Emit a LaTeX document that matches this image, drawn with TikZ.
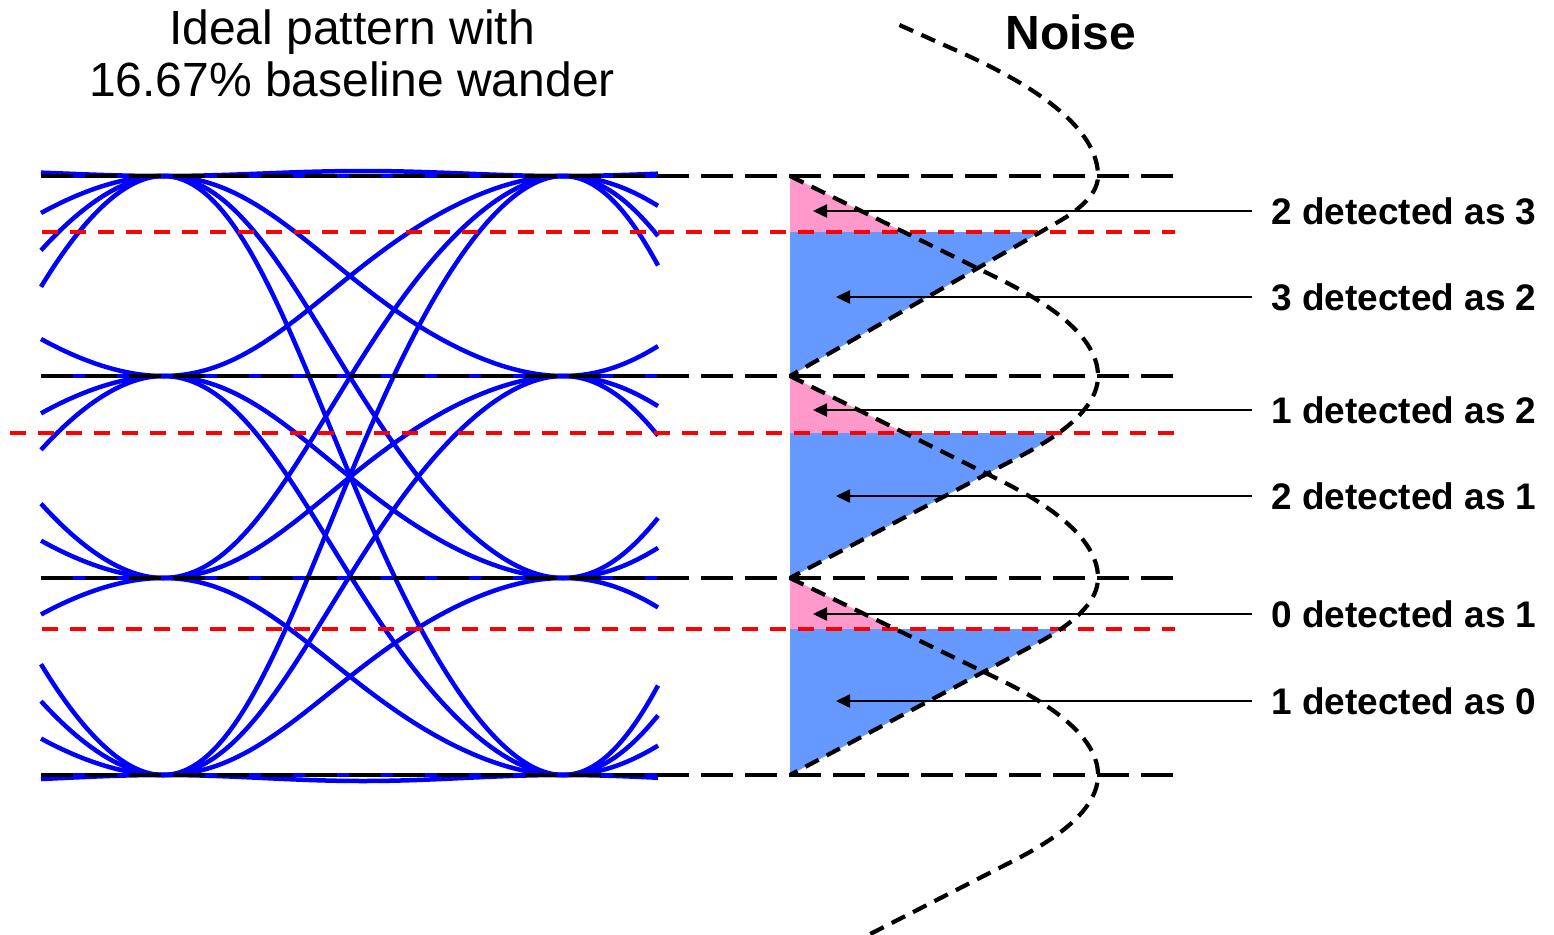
\documentclass[tikz,border=0pt]{standalone}
\usepackage{fontspec}
\setmainfont{Liberation Sans}
\usetikzlibrary{arrows.meta}
\definecolor{eyeblue}{RGB}{0,0,255}
\definecolor{pinkfill}{RGB}{255,153,204}
\definecolor{bluefill}{RGB}{102,153,255}
\begin{document}
\begin{tikzpicture}[x=1pt,y=-1pt,
  declare function={
    wwarp(\ua)=\ua+0.0328*pow(sin(180*\ua),2);
    eyetr(\pa,\qa,\ua)=\pa+(\qa-\pa)*(1-cos(180*wwarp(\ua)))/2;
    gtail(\da,\ma)=(\da<2*(1-1/\ma)) ? (1-\ma/(4*(1-1/\ma))*\da*\da) : (\ma*(1-\da));
  },
  trace/.style={eyeblue, line width=4.5pt, line join=round},
  levelline/.style={black, line width=4.5pt, dash pattern=on 32pt off 12pt},
  thresh/.style={red, line width=4pt, dash pattern=on 16pt off 12pt},
  noise/.style={black, line width=4.2pt, dash pattern=on 15pt off 9pt},
  arr/.style={-{Triangle[length=14pt,width=13pt]}, line width=2.5pt},
  lab/.style={font=\fontsize{37}{40}\selectfont\bfseries, inner xsep=19pt, inner ysep=0pt, anchor=base west},
]
\useasboundingbox (0,0) rectangle (1554,934);
\fill[white] (0,0) rectangle (1554,934);

% ---- eye diagram traces
\foreach \p in {176,376,578,775}{
  \foreach \q in {176,376,578,775}{
    \draw[trace] plot[domain=41:163, samples=30] (\x, {eyetr(\p,\q,(\x+237)/400)});
    \draw[trace] plot[domain=163:563, samples=80] (\x, {eyetr(\p,\q,(\x-163)/400)});
    \draw[trace] plot[domain=563:658, samples=25] (\x, {eyetr(\p,\q,(\x-563)/400)});
  }
}
\draw[trace] plot[domain=41:658, samples=80] (\x, {176-5*pow(sin(0.45*(\x-163)),2)});
\draw[trace] plot[domain=41:658, samples=80] (\x, {775+6*pow(sin(0.45*(\x-163)),2)});

% ---- error regions
\fill[pinkfill] (790,176) -- plot[variable=\t, domain=176:232, samples=20] ({790+308*gtail((376-\t)/200,1.32)}, \t) -- (790,232) -- cycle;
\fill[bluefill] (790,232) -- plot[variable=\t, domain=232:376, samples=40] ({790+308*gtail((\t-176)/200,1.13)}, \t) -- cycle;
\fill[pinkfill] (790,376) -- plot[variable=\t, domain=376:433, samples=20] ({790+308*gtail((578-\t)/202,1.32)}, \t) -- (790,433) -- cycle;
\fill[bluefill] (790,433) -- plot[variable=\t, domain=433:578, samples=40] ({790+308*gtail((\t-376)/202,1.24)}, \t) -- cycle;
\fill[pinkfill] (790,578) -- plot[variable=\t, domain=578:629, samples=20] ({790+308*gtail((775-\t)/197,1.32)}, \t) -- (790,629) -- cycle;
\fill[bluefill] (790,629) -- plot[variable=\t, domain=629:775, samples=40] ({790+308*gtail((\t-578)/197,1.2)}, \t) -- cycle;

% ---- level and threshold lines
\foreach \yy in {176,376,578,775}{\draw[levelline] (41,\yy) -- (1175,\yy);}
\draw[thresh] (42,232) -- (1175,232);
\draw[thresh] (10,433) -- (1175,433);
\draw[thresh] (42,629) -- (1175,629);

% ---- noise distributions
\draw[noise] plot[variable=\t, domain=25:176, samples=40] ({790+308*gtail((176-\t)/200,1.45)}, \t)
  -- plot[variable=\t, domain=176:376, samples=50] ({790+308*gtail((\t-176)/200,1.13)}, \t);
\draw[noise] plot[variable=\t, domain=176:376, samples=50] ({790+308*gtail((376-\t)/200,1.32)}, \t)
  -- plot[variable=\t, domain=376:578, samples=50] ({790+308*gtail((\t-376)/202,1.24)}, \t);
\draw[noise] plot[variable=\t, domain=376:578, samples=50] ({790+308*gtail((578-\t)/202,1.32)}, \t)
  -- plot[variable=\t, domain=578:775, samples=50] ({790+308*gtail((\t-578)/197,1.2)}, \t);
\draw[noise] plot[variable=\t, domain=578:775, samples=50] ({790+308*gtail((775-\t)/197,1.32)}, \t)
  -- plot[variable=\t, domain=775:934, samples=40] ({790+308*gtail((\t-775)/200,1.27)}, \t);

% ---- texts
\node[font=\fontsize{48}{52}\selectfont, align=center, anchor=north, inner sep=0pt] (title) at (352,10) {Ideal pattern with\\16.67\% baseline wander};
\node[font=\fontsize{48}{52}\selectfont\bfseries, anchor=base, inner sep=0pt] (noiselab) at (1071,50) {Noise};

% ---- labels and arrows
\coordinate (t1) at (813,211);
\coordinate (t2) at (836,297);
\coordinate (t3) at (813,410);
\coordinate (t4) at (836,496);
\coordinate (t5) at (813,614);
\coordinate (t6) at (836,701);
\node[lab] (l1) at (1252,224) {2 detected as 3};
\node[lab] (l2) at (1252,310) {3 detected as 2};
\node[lab] (l3) at (1252,423) {1 detected as 2};
\node[lab] (l4) at (1252,509) {2 detected as 1};
\node[lab] (l5) at (1252,627) {0 detected as 1};
\node[lab] (l6) at (1252,714) {1 detected as 0};
\foreach \i in {1,...,6}{\draw[arr] (l\i.west |- t\i) -- (t\i);}
\end{tikzpicture}
\end{document}
